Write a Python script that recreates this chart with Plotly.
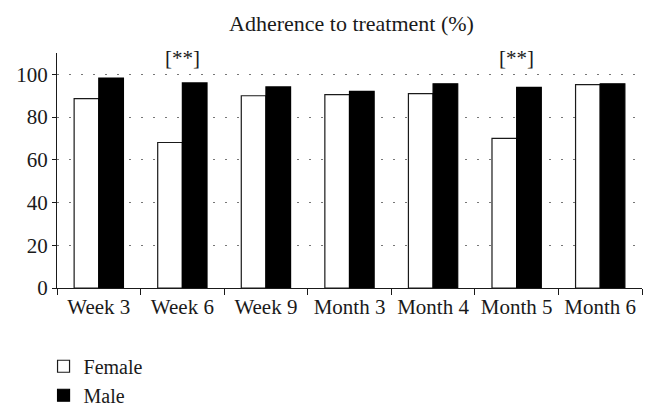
import plotly.graph_objects as go

categories = ["Week 3", "Week 6", "Week 9", "Month 3", "Month 4", "Month 5", "Month 6"]
female = [88.6, 68.1, 90.0, 90.5, 91.0, 70.0, 95.2]
male = [98.3, 96.0, 94.1, 92.0, 95.6, 93.9, 95.6]
significance = ["", "[**]", "", "", "", "[**]", ""]
yticks = [0, 20, 40, 60, 80, 100]

FONT = "Liberation Serif"
INK = "#1a1a1a"

fig = go.Figure()
fig.add_trace(go.Bar(x=categories, y=female, name="Female",
                     marker=dict(color="white", line=dict(color=INK, width=1.2))))
fig.add_trace(go.Bar(x=categories, y=male, name="Male",
                     marker=dict(color="black", line=dict(color="black", width=1.2))))

for c, s in zip(categories, significance):
    if s:
        fig.add_annotation(x=c, y=107.8, text=s, showarrow=False, yanchor="middle",
                           font=dict(family=FONT, size=21, color=INK))

fig.update_layout(
    width=657, height=417,
    paper_bgcolor="white", plot_bgcolor="white",
    margin=dict(l=57, r=15, t=53, b=129, autoexpand=False),
    barmode="group", bargap=0.41, bargroupgap=0,
    font=dict(family=FONT, size=21, color=INK),
    title=dict(text="Adherence to treatment (%)", x=0.535, xanchor="center",
               y=0.945, yanchor="middle", font=dict(family=FONT, size=22, color=INK)),
    showlegend=True,
    legend=dict(x=-0.023, xanchor="left", y=-0.25, yanchor="top",
                orientation="v", font=dict(family=FONT, size=20, color=INK),
                traceorder="normal", itemwidth=30),
    xaxis=dict(showline=True, linecolor=INK, linewidth=1.2, ticks="outside",
               tickson="boundaries", ticklen=6, tickcolor=INK, showgrid=False,
               tickfont=dict(family=FONT, size=21, color=INK)),
    yaxis=dict(range=[0, 110], tickvals=yticks, showline=True, linecolor=INK,
               linewidth=1.2, ticks="outside", ticklen=4, tickcolor=INK,
               showgrid=True, gridcolor="#777", griddash="2px,10px", gridwidth=1,
               zeroline=False, tickfont=dict(family=FONT, size=21, color=INK)),
)

fig.write_html("out.html", config={"displayModeBar": False},
               post_script="document.body.style.margin='0';document.body.style.overflow='hidden';")
